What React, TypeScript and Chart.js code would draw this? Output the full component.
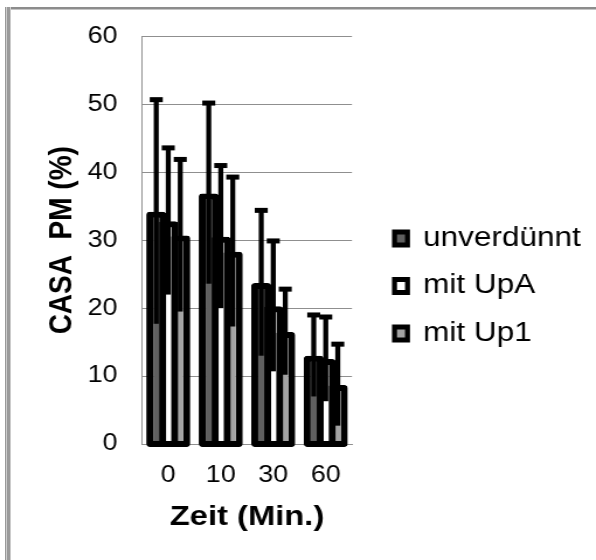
import React, { useEffect, useRef } from "react";
import { Chart, registerables } from "chart.js";

Chart.register(...registerables);

// Time points (minutes) and the three sample groups
const categories = ["0", "10", "30", "60"];
const seriesNames = ["unverdünnt", "mit UpA", "mit Up1"];

// Mean CASA PM (%) per time point
const unverduennt = [34.2, 36.9, 23.7, 13.0];
const mitUpA = [32.8, 30.5, 20.3, 12.5];
const mitUp1 = [30.7, 28.3, 16.5, 8.7];

// Standard deviations (symmetric error bars)
const sdUnverduennt = [16.5, 13.3, 10.7, 6.0];
const sdUpA = [10.8, 10.5, 9.6, 6.2];
const sdUp1 = [11.2, 11.0, 6.3, 6.0];

const yTicks = [0, 10, 20, 30, 40, 50, 60];

const fillColors = ["#5f5f5f", "#ffffff", "#a3a3a3"];

// The drawing surface is narrower than the page and stretched sideways
const PAGE_W = 596;
const H = 560;
const W = 510;
const SX = PAGE_W / W;
const px = (pageX: number) => pageX / SX;

const GRID = "#8f8f8f";
const FONT = "'Liberation Sans', Arial, sans-serif";

const errorBarPlugin = {
  id: "errorBars",
  afterDatasetsDraw(chart: any) {
    const { ctx } = chart;
    const yScale = chart.scales.y;
    const lineW = px(5);
    const capW = px(13);
    const capH = 5;
    ctx.save();
    ctx.fillStyle = "#000";
    chart.data.datasets.forEach((ds: any, di: number) => {
      const meta = chart.getDatasetMeta(di);
      meta.data.forEach((bar: any, i: number) => {
        const v = ds.data[i];
        const e = ds.errors[i];
        const yTop = yScale.getPixelForValue(v + e);
        const yLow = yScale.getPixelForValue(v - e);
        ctx.fillRect(bar.x - lineW / 2, yTop, lineW, yLow - yTop);
        ctx.fillRect(bar.x - capW / 2, yTop - capH / 2, capW, capH);
      });
    });
    ctx.restore();
  },
};

const sideLegendPlugin = {
  id: "sideLegend",
  afterDraw(chart: any) {
    const { ctx } = chart;
    const boxX = px(392);
    const boxW = px(18);
    const boxH = 18;
    const bx = px(5);
    const by = 5;
    const textX = px(423);
    const firstY = 238.5;
    const step = 47.5;
    ctx.save();
    ctx.font = `27px ${FONT}`;
    ctx.textBaseline = "middle";
    ctx.textAlign = "left";
    chart.data.datasets.forEach((ds: any, i: number) => {
      const cy = firstY + i * step;
      ctx.fillStyle = "#000";
      ctx.fillRect(boxX, cy - boxH / 2, boxW, boxH);
      ctx.fillStyle = ds.backgroundColor;
      ctx.fillRect(boxX + bx, cy - boxH / 2 + by, boxW - 2 * bx, boxH - 2 * by);
      ctx.fillStyle = "#000";
      ctx.fillText(ds.label, textX, cy);
    });
    ctx.restore();
  },
};

export default function App() {
  const canvasRef = useRef<HTMLCanvasElement | null>(null);

  useEffect(() => {
    const canvas = canvasRef.current;
    if (!canvas) return;

    const seriesValues = [unverduennt, mitUpA, mitUp1];
    const seriesErrors = [sdUnverduennt, sdUpA, sdUp1];

    const chart = new Chart(canvas, {
      type: "bar",
      data: {
        labels: categories,
        datasets: seriesNames.map((name, i) => ({
          label: name,
          data: seriesValues[i],
          errors: seriesErrors[i],
          backgroundColor: fillColors[i],
        })) as any,
      },
      options: {
        responsive: false,
        animation: false,
        devicePixelRatio: 1,
        events: [],
        layout: {
          padding: { top: 36.5, right: W - px(352), bottom: 0, left: 0 },
        },
        datasets: {
          bar: {
            borderColor: "#000",
            borderWidth: 6,
            borderRadius: 3,
            borderSkipped: false,
            categoryPercentage: 0.686,
            barPercentage: 1.67,
            base: -0.45,
            clip: false as any,
          },
        },
        plugins: {
          legend: { display: false },
          tooltip: { enabled: false },
        },
        scales: {
          x: {
            grid: { display: false, drawTicks: false },
            border: { display: true, color: GRID, width: 1 },
            ticks: {
              color: "#000",
              font: { family: FONT, size: 23 },
              padding: 18,
              maxRotation: 0,
            },
            title: {
              display: true,
              text: "Zeit (Min.)",
              color: "#000",
              font: { family: FONT, size: 28, weight: "bold" },
              padding: { top: 0, bottom: 26 },
            },
            afterFit: (s: any) => {
              s.height = H - 444;
            },
          },
          y: {
            min: 0,
            max: 60,
            grid: { color: GRID, drawTicks: false, lineWidth: 1 },
            border: { display: true, color: GRID, width: 1 },
            ticks: {
              color: "#000",
              font: { family: FONT, size: 23 },
              padding: 21,
            },
            afterBuildTicks: (s: any) => {
              s.ticks = yTicks.map((v) => ({ value: v }));
            },
            title: {
              display: true,
              text: "CASA  PM (%)",
              color: "#000",
              font: { family: FONT, size: 28, weight: "bold" },
              padding: { top: 36, bottom: 0 },
            },
            afterFit: (s: any) => {
              s.width = px(142);
            },
          },
        },
      } as any,
      plugins: [errorBarPlugin, sideLegendPlugin],
    });

    return () => chart.destroy();
  }, []);

  return (
    <div
      style={{
        position: "fixed",
        left: 0,
        top: 0,
        width: PAGE_W,
        height: H,
        background: "#fff",
        overflow: "hidden",
      }}
    >
      <div
        style={{
          position: "absolute",
          left: 0,
          top: 0,
          width: W,
          height: H,
          transform: `scaleX(${SX})`,
          transformOrigin: "0 0",
        }}
      >
        <canvas
          ref={canvasRef}
          width={W}
          height={H}
          style={{ display: "block", width: W, height: H }}
        />
      </div>
      {/* frame lines */}
      <div style={{ position: "absolute", left: 5, top: 7, width: PAGE_W - 5, height: 2, background: "#8c8c8c" }} />
      <div style={{ position: "absolute", left: 5, top: 9, width: PAGE_W - 5, height: 1, background: "#c4c4c4" }} />
      <div style={{ position: "absolute", left: 5, top: 7, width: 1, height: H - 7, background: "#9a9a9a" }} />
      <div style={{ position: "absolute", left: 6, top: 7, width: 1, height: H - 7, background: "#cdcdcd" }} />
      <div style={{ position: "absolute", left: 7, top: 7, width: 3, height: H - 7, background: "#9a9a9a" }} />
      <div style={{ position: "absolute", left: 10, top: 7, width: 1, height: H - 7, background: "#cdcdcd" }} />
    </div>
  );
}
